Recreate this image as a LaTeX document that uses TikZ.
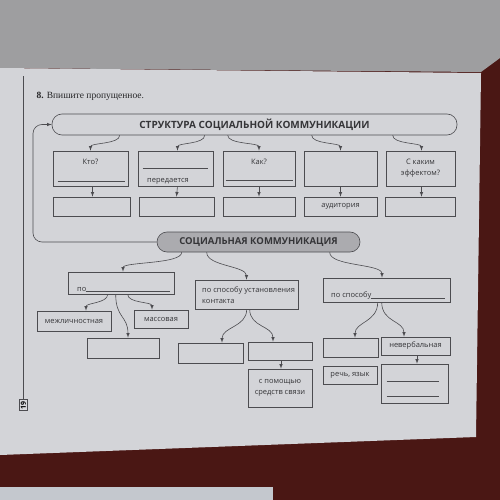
\documentclass[tikz,border=0pt]{standalone}
\usepackage{fontspec}
\setmainfont{Liberation Serif}
\setsansfont{Open Sans}
\definecolor{paper}{HTML}{D3D4D8}
\definecolor{facing}{HTML}{9E9EA0}
\definecolor{desk}{HTML}{4A1714}
\definecolor{sheet}{HTML}{C4C8CE}
\definecolor{ink}{HTML}{4C4C50}
\definecolor{shade}{HTML}{ABABAF}
\tikzset{
  box/.style={draw=ink,line width=0.6pt,inner sep=0pt},
  head/.style={box,rounded corners=10pt,text=ink!70!black,
    font=\sffamily\bfseries\fontsize{10}{11}\selectfont},
  lbl/.style={text=ink!70!black,font=\sffamily\fontsize{7.5}{11}\selectfont},
  conn/.style={draw=ink,line width=0.6pt,->},
  blank/.style={draw=ink,line width=0.5pt},
}
\begin{document}
\begin{tikzpicture}[>=latex,x=1pt,y=-1pt]
\def\ya{168.5}
\def\yb{206.5}
\useasboundingbox (0,0) rectangle (500,500);
% page and surroundings
\fill[desk] (0,0) rectangle (500,500);
\fill[facing] (0,0) -- (500,0) -- (500,58) -- (481,72) -- (0,68) -- cycle;
\fill[paper] (0,68) -- (481,73) -- (476,437) -- (0,455) -- cycle;
\fill[sheet] (0,487) rectangle (273,500);
\node[anchor=base west,text=ink!50!black,font=\fontsize{9.5}{11}\selectfont]
  (task) at (33,99) {\textbf{8.} Впишите пропущенное.};
\node[box,fill=paper!85!white,rotate=90,inner sep=1.5pt,
  font=\sffamily\bfseries\fontsize{7}{8}\selectfont] (pg) at (23.5,405) {19};
\draw[ink,line width=0.4pt] (pg.east) -- (pg.east |- 0,76);

% structure
\node[head,minimum width=405pt,minimum height=21pt] (title) at (254.5,124.5)
  {СТРУКТУРА СОЦИАЛЬНОЙ КОММУНИКАЦИИ};
\node[box,minimum width=75pt,minimum height=35pt] (kto) at (90.5,\ya) {};
\node[box,minimum width=75pt,minimum height=35pt] (chto) at (175.5,\ya) {};
\node[box,minimum width=72pt,minimum height=35pt] (kak) at (259,\ya) {};
\node[box,minimum width=73pt,minimum height=35pt] (komu) at (340.5,\ya) {};
\node[box,minimum width=69pt,minimum height=35pt,lbl,align=center] (effekt) at (420.5,\ya)
  {С каким\\эффектом?};
\node[box,minimum width=77pt,minimum height=19pt] (kto2) at (91.5,\yb) {};
\node[box,minimum width=75pt,minimum height=19pt] (chto2) at (176.5,\yb) {};
\node[box,minimum width=72pt,minimum height=19pt] (kak2) at (259,\yb) {};
\node[box,minimum width=73pt,minimum height=19pt,lbl] (komu2) at (340.5,\yb) {аудитория};
\node[box,minimum width=70pt,minimum height=19pt] (effekt2) at (420,\yb) {};
\node[lbl] at ([yshift=-11pt]kto.north) {Кто?};
\draw[blank] ([xshift=5pt,yshift=5pt]kto.south west) -- ([xshift=-3pt,yshift=5pt]kto.south east);
\draw[blank] ([xshift=5pt]chto.west) -- ([xshift=-5pt]chto.east);
\node[lbl,anchor=base west] at ([xshift=6pt,yshift=4pt]chto.south west) {передается};
\node[lbl] at ([yshift=-11pt]kak.north) {Как?};
\draw[blank] ([xshift=3pt,yshift=6pt]kak.south west) -- ([xshift=-2pt,yshift=6pt]kak.south east);
\draw[conn] ([xshift=68pt]title.south west) .. controls +(0,9) and +(0,-8) .. (kto.north);
\draw[conn] ([xshift=153pt]title.south west) .. controls +(0,9) and +(0,-8) .. ([xshift=2pt]chto.north);
\draw[conn] ([xshift=176pt]title.south west) .. controls +(0,9) and +(0,-8) .. (kak.north);
\draw[conn] ([xshift=260pt]title.south west) .. controls +(0,9) and +(0,-8) .. (komu.north);
\draw[conn] ([xshift=341pt]title.south west) .. controls +(0,9) and +(0,-8) .. ([xshift=1pt]effekt.north);
\draw[conn] ([xshift=2pt]kto.south) -- ([xshift=1pt]kto2.north);
\draw[conn] ([xshift=2pt]chto.south) -- (chto2.north);
\draw[conn] (kak.south) -- (kak2.north);
\draw[conn] (komu.south) -- (komu2.north);
\draw[conn] ([xshift=1pt]effekt.south) -- ([xshift=1.5pt]effekt2.north);

% kinds
\node[head,fill=shade,minimum width=203pt,minimum height=20pt,
  font=\sffamily\bfseries\fontsize{9.5}{10}\selectfont] (soc) at (258.5,242)
  {СОЦИАЛЬНАЯ КОММУНИКАЦИЯ};
\coordinate (margin) at (33,0);
\draw[conn,rounded corners=9pt] (soc.west) -- (soc.west -| margin) |- (title.west);
\node[box,minimum width=106pt,minimum height=22pt] (po) at (121,283) {};
\node[lbl,anchor=base west] at ([xshift=6pt,yshift=3pt]po.south west) {по};
\draw[blank] ([xshift=18pt,yshift=3pt]po.south west) -- ([xshift=-4pt,yshift=3pt]po.south east);
\node[box,minimum width=103pt,minimum height=29pt] (kontakt) at (246.5,294.5) {};
\node[lbl,align=left,anchor=west] at ([xshift=4pt,yshift=-1pt]kontakt.west)
  {по способу установления\\контакта};
\node[box,minimum width=127pt,minimum height=24pt] (sposob) at (386.5,290) {};
\node[lbl,anchor=base west] at ([xshift=5pt,yshift=5pt]sposob.south west) {по способу};
\draw[blank] ([xshift=48pt,yshift=4pt]sposob.south west) -- ([xshift=-5pt,yshift=4pt]sposob.south east);
\draw[conn] ([xshift=25pt]soc.south west) .. controls +(0,12) and +(0,-10) .. ([xshift=2pt]po.north);
\draw[conn] ([xshift=50pt]soc.south west) .. controls +(0,14) and +(0,-14) .. (kontakt.north);
\draw[conn] ([xshift=173pt]soc.south west) .. controls +(0,14) and +(0,-14) .. ([xshift=-4.5pt]sposob.north);

% by number of participants
\node[box,lbl,minimum width=74pt,minimum height=20pt] (mezh) at (74,321) {межличностная};
\node[box,lbl,minimum width=54pt,minimum height=18pt] (mass) at (161,319) {массовая};
\node[box,minimum width=72pt,minimum height=20pt] (gruppa) at (123,348) {};
\draw[conn] ([xshift=40pt]po.south west) .. controls +(0,9) and +(0,-8) .. ([xshift=12pt]mezh.north);
\draw[conn] ([xshift=60pt]po.south west) .. controls +(0,9) and +(0,-8) .. ([xshift=-9pt]mass.north);
\draw[conn] ([xshift=48pt]po.south west) .. controls +(0,24) and +(0,-22) .. ([xshift=5pt]gruppa.north);

% by contact
\node[box,minimum width=65pt,minimum height=20pt] (pryam) at (210.5,353) {};
\node[box,minimum width=64pt,minimum height=18pt] (oposr) at (280,351) {};
\node[box,lbl,align=center,minimum width=64pt,minimum height=38pt] (svyaz) at (280,388)
  {с помощью\\средств связи};
\draw[conn] ([xshift=52pt]kontakt.south west) .. controls +(0,18) and +(0,-16) .. ([xshift=11.5pt]pryam.north);
\draw[conn] ([xshift=55pt]kontakt.south west) .. controls +(0,18) and +(0,-16) .. ([xshift=-7pt]oposr.north);
\draw[conn] ([xshift=1pt]oposr.south) -- ([xshift=1pt]svyaz.north);

% by means
\node[box,minimum width=55pt,minimum height=19pt] (verb) at (350.5,347.5) {};
\node[box,lbl,minimum width=69pt,minimum height=18pt] (neverb) at (415.5,346) {невербальная};
\node[box,lbl,minimum width=54pt,minimum height=18pt] (rech) at (350,375) {речь, язык};
\node[box,minimum width=67pt,minimum height=39pt] (zhest) at (414.5,383.5) {};
\draw[blank] ([xshift=6pt,yshift=22pt]zhest.south west) -- ([xshift=-9pt,yshift=22pt]zhest.south east);
\draw[blank] ([xshift=6pt,yshift=7pt]zhest.south west) -- ([xshift=-9pt,yshift=7pt]zhest.south east);
\draw[conn] ([xshift=55pt]sposob.south west) .. controls +(0,20) and +(0,-16) .. ([xshift=4.5pt]verb.north);
\draw[conn] ([xshift=59pt]sposob.south west) .. controls +(0,20) and +(0,-16) .. ([xshift=-11.5pt]neverb.north);
\draw[conn] ([xshift=1.5pt]neverb.south) -- ([xshift=2.5pt]zhest.north);
\end{tikzpicture}
\end{document}
